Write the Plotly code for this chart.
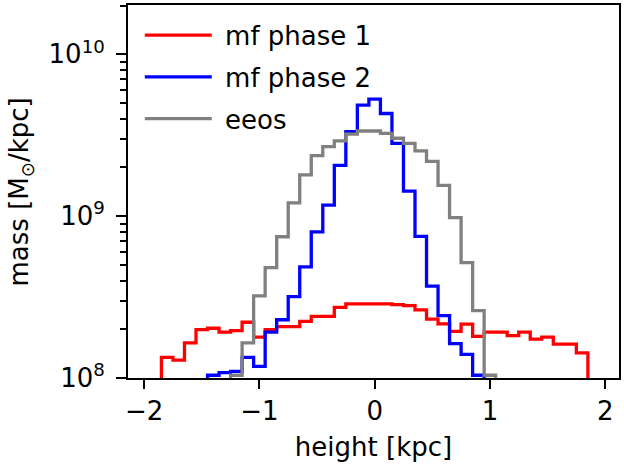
import plotly.graph_objects as go

# ---- data ----
bin_width = 0.1

red_left_edge = -1.85
red_values = [1.34e8, 1.29e8, 1.65e8, 1.99e8, 2.03e8, 1.92e8, 1.96e8, 2.21e8, 1.79e8,
              1.99e8, 2.08e8, 2.08e8, 2.24e8, 2.40e8, 2.40e8, 2.73e8, 2.87e8, 2.89e8,
              2.90e8, 2.87e8, 2.84e8, 2.80e8, 2.64e8, 2.31e8, 2.16e8, 1.94e8, 2.15e8,
              1.81e8, 1.92e8, 1.92e8, 1.83e8, 1.92e8, 1.74e8, 1.79e8, 1.62e8, 1.62e8,
              1.43e8]

blue_left_edge = -1.45
blue_values = [1.04e8, 1.08e8, 1.10e8, 1.34e8, 1.18e8, 1.92e8, 2.29e8, 3.18e8, 4.86e8,
               8.0e8, 1.17e9, 2.06e9, 3.33e9, 4.86e9, 5.29e9, 4.31e9, 2.82e9, 1.43e9,
               7.5e8, 3.7e8, 2.43e8, 1.63e8, 1.40e8, 1.04e8]

gray_left_edge = -1.25
gray_values = [1.04e8, 1.65e8, 3.22e8, 4.81e8, 7.46e8, 1.21e9, 1.80e9, 2.37e9, 2.69e9,
               2.92e9, 3.21e9, 3.36e9, 3.36e9, 3.25e9, 3.03e9, 2.82e9, 2.53e9, 2.18e9,
               1.55e9, 9.8e8, 5.16e8, 2.61e8, 1.04e8]

series_names = ["mf phase 1", "mf phase 2", "eeos"]
series_colors = ["#ff0000", "#0000ff", "#808080"]

x_ticks = [-2, -1, 0, 1, 2]
x_ticktext = ["\u22122", "\u22121", "0", "1", "2"]
y_ticks = [1e8, 1e9, 1e10]
y_ticktext = ["10<sup>8</sup>", "10<sup>9</sup>", "10<sup>10</sup>"]
y_minor = [m * 10 ** e for e in (8, 9) for m in range(2, 10)] + [2e10]

FLOOR = 1e6  # below axis range, so outline drops to bottom like a step histogram


def step_outline(left, values):
    xs, ys = [left], [FLOOR]
    for i, v in enumerate(values):
        a = left + i * bin_width
        b = a + bin_width
        xs += [a, b]
        ys += [v, v]
    xs.append(left + len(values) * bin_width)
    ys.append(FLOOR)
    return xs, ys


fig = go.Figure()
for i, (left, vals) in enumerate([(red_left_edge, red_values),
                                  (blue_left_edge, blue_values),
                                  (gray_left_edge, gray_values)]):
    xs, ys = step_outline(left, vals)
    fig.add_trace(go.Scatter(
        x=xs, y=ys, mode="lines", name="\u00a0" + series_names[i],
        legendgroup=series_names[i],
        line=dict(color=series_colors[i], width=3.3),
        cliponaxis=True,
    ))

FONT = "DejaVu Sans"
FS = 26

fig.update_layout(
    width=624, height=466,
    margin=dict(l=128, r=4, t=3, b=88),
    paper_bgcolor="white", plot_bgcolor="white",
    font=dict(family=FONT, size=FS, color="black"),
    showlegend=True,
    legend=dict(x=0.024, y=0.982, xanchor="left", yanchor="top",
                bgcolor="rgba(0,0,0,0)", borderwidth=0,
                font=dict(family=FONT, size=FS),
                tracegroupgap=5, itemwidth=67),
    xaxis=dict(
        range=[-2.14, 2.12], tickmode="array", tickvals=x_ticks, ticktext=x_ticktext,
        ticks="outside", ticklen=9, tickwidth=2, tickcolor="black",
        showline=True, linecolor="black", linewidth=2, mirror=True,
        showgrid=False, zeroline=False,
        title=dict(text="height [kpc]", font=dict(family=FONT, size=FS), standoff=13),
    ),
    yaxis=dict(
        type="log", range=[8, 10.305], tickmode="array", tickvals=y_ticks, ticktext=y_ticktext,
        ticks="outside", ticklen=10, tickwidth=2, tickcolor="black",
        ticklabelstandoff=6,
        minor=dict(tickmode="array", tickvals=y_minor, ticks="outside", ticklen=6,
                   tickwidth=1.5, tickcolor="black", showgrid=False),
        showline=True, linecolor="black", linewidth=2, mirror=True,
        showgrid=False, zeroline=False,
    ),
    annotations=[dict(
        text="mass [M<sub>\u2299</sub>/kpc]", textangle=-90,
        xref="paper", yref="paper", x=-0.218, y=0.5,
        xanchor="center", yanchor="middle", showarrow=False,
        font=dict(family=FONT, size=FS),
    )],
)

fig.write_html("out.html")
